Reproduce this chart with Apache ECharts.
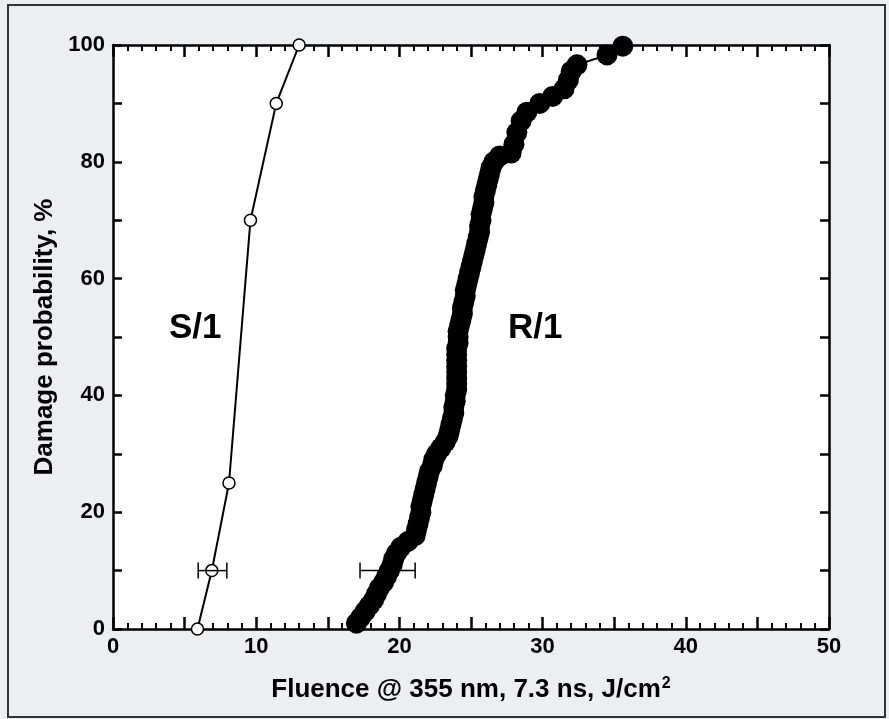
<!DOCTYPE html>
<html>
<head>
<meta charset="utf-8">
<script src="https://cdn.jsdelivr.net/npm/echarts@6/dist/echarts.min.js"></script>
<style>
  html, body { margin: 0; padding: 0; background: #edeef0; }
  #chart { width: 889px; height: 719px; }
</style>
</head>
<body>
<div id="chart"></div>
<script>
// S/1 open circles: [fluence, probability]
const s1Points = [[5.9, 0], [6.9, 10], [8.1, 25], [9.6, 70], [11.4, 90], [13.0, 100]];
// R/1 filled circles: [fluence, probability]
const r1Points = [
  [17.0, 1], [17.3, 2], [17.6, 3], [17.9, 4], [18.2, 5], [18.4, 6], [18.6, 7], [18.9, 8],
  [19.1, 9], [19.3, 10], [19.5, 11], [19.6, 12], [19.8, 13], [20.1, 14], [20.6, 15], [21.1, 16],
  [21.2, 17], [21.3, 18], [21.4, 19], [21.5, 20], [21.5, 21], [21.6, 22], [21.7, 23], [21.8, 24],
  [21.9, 25], [22.0, 26], [22.1, 27], [22.3, 28], [22.4, 29], [22.6, 30], [22.9, 31], [23.2, 32],
  [23.4, 33], [23.5, 34], [23.6, 35], [23.7, 36], [23.8, 37], [23.8, 38], [23.9, 39], [23.9, 40],
  [24.0, 41], [24.0, 42], [24.0, 43], [24.0, 44], [24.0, 45], [24.0, 46], [24.0, 47], [24.0, 48],
  [24.1, 49], [24.1, 50], [24.1, 51], [24.2, 52], [24.3, 53], [24.4, 54], [24.4, 55], [24.5, 56],
  [24.6, 57], [24.6, 58], [24.7, 59], [24.8, 60], [24.9, 61], [25.0, 62], [25.1, 63], [25.2, 64],
  [25.3, 65], [25.4, 66], [25.5, 67], [25.6, 68], [25.6, 69], [25.7, 70], [25.7, 71], [25.8, 72],
  [25.9, 73], [25.9, 74], [26.0, 75], [26.1, 76], [26.2, 77], [26.3, 78], [26.4, 79], [26.6, 80],
  [27.0, 81], [27.8, 81.5], [28.0, 83], [28.2, 85], [28.5, 87], [28.9, 88.5], [29.8, 90], [30.7, 91.2],
  [31.5, 92.5], [31.8, 94], [32.0, 95.5], [32.4, 96.6], [34.5, 98.3], [35.6, 99.8]
];
// error bars: [low, high, probability]
const errorBars = [[5.95, 7.95, 10], [17.25, 21.1, 10]];

const font = "'Liberation Sans', Arial, sans-serif";
const axisStyle = { color: "#000", width: 2.5 };

function xAxisCfg(pos, labels) {
  return {
    type: "value", min: 0, max: 50, interval: 5, position: pos,
    axisLine: { onZero: false, lineStyle: axisStyle },
    axisTick: { inside: true, length: 12, lineStyle: { color: "#000", width: 2.5 } },
    minorTick: { show: true, splitNumber: 5, length: 6, lineStyle: { color: "#000", width: 2 } },
    splitLine: { show: false },
    axisLabel: {
      show: labels, color: "#000", fontFamily: font, fontWeight: "bold", fontSize: 22, margin: 7,
      formatter: v => (v % 10 === 0 ? v : "")
    }
  };
}
function yAxisCfg(pos, labels) {
  return {
    type: "value", min: 0, max: 100, interval: 10, position: pos,
    axisLine: { onZero: false, lineStyle: axisStyle },
    axisTick: { inside: true, length: 9, lineStyle: { color: "#000", width: 2.5 } },
    splitLine: { show: false },
    axisLabel: {
      show: labels, color: "#000", fontFamily: font, fontWeight: "bold", fontSize: 22, margin: 8,
      formatter: v => (v % 20 === 0 ? v : "")
    }
  };
}

const xBottom = xAxisCfg("bottom", true);
xBottom.name = "{a|Fluence @ 355 nm, 7.3 ns, J/cm}{s|2}";
xBottom.nameLocation = "middle";
xBottom.nameGap = 47;
xBottom.nameTextStyle = {
  rich: {
    a: { fontFamily: font, fontWeight: "bold", fontSize: 26, color: "#000" },
    s: { fontFamily: font, fontWeight: "bold", fontSize: 16, color: "#000", verticalAlign: "top", padding: [0, 0, 12, 1] }
  }
};
const yLeft = yAxisCfg("left", true);
yLeft.name = "Damage probability, %";
yLeft.nameLocation = "middle";
yLeft.nameGap = 54;
yLeft.nameTextStyle = { fontFamily: font, fontWeight: "bold", fontSize: 26, color: "#000" };

const option = {
  backgroundColor: "#edeef0",
  animation: false,
  grid: { left: 113, top: 45, width: 716, height: 584, show: true, backgroundColor: "#fff", borderWidth: 0 },
  xAxis: [xBottom, xAxisCfg("top", false)],
  yAxis: [yLeft, yAxisCfg("right", false)],
  graphic: [
    { type: "rect", shape: { x: 8, y: 5, width: 877, height: 712 }, style: { fill: "none", stroke: "#333", lineWidth: 2 }, z: 100 },
    { type: "text", left: 169, top: 311, style: { text: "S/1", font: "bold 35px " + font, fill: "#000" } },
    { type: "text", left: 508, top: 311, style: { text: "R/1", font: "bold 35px " + font, fill: "#000" } }
  ],
  series: [
    {
      type: "line", data: s1Points, symbol: "circle", symbolSize: 12,
      lineStyle: { color: "#000", width: 2 },
      itemStyle: { color: "#fff", borderColor: "#000", borderWidth: 1.5 }
    },
    {
      type: "line", data: r1Points, symbol: "circle", symbolSize: 21,
      lineStyle: { color: "#000", width: 2 },
      itemStyle: { color: "#000", borderWidth: 0 }
    },
    {
      type: "custom", data: errorBars, z: 10,
      encode: { x: [0, 1], y: 2 },
      renderItem: (params, api) => {
        const lo = api.coord([api.value(0), api.value(2)]);
        const hi = api.coord([api.value(1), api.value(2)]);
        const st = { stroke: "#000", lineWidth: 1.5 };
        return {
          type: "group",
          children: [
            { type: "line", shape: { x1: lo[0], y1: lo[1], x2: hi[0], y2: hi[1] }, style: st },
            { type: "line", shape: { x1: lo[0], y1: lo[1] - 8, x2: lo[0], y2: lo[1] + 8 }, style: st },
            { type: "line", shape: { x1: hi[0], y1: hi[1] - 8, x2: hi[0], y2: hi[1] + 8 }, style: st }
          ]
        };
      }
    }
  ]
};

const chart = echarts.init(document.getElementById("chart"));
chart.setOption(option);
</script>
</body>
</html>
